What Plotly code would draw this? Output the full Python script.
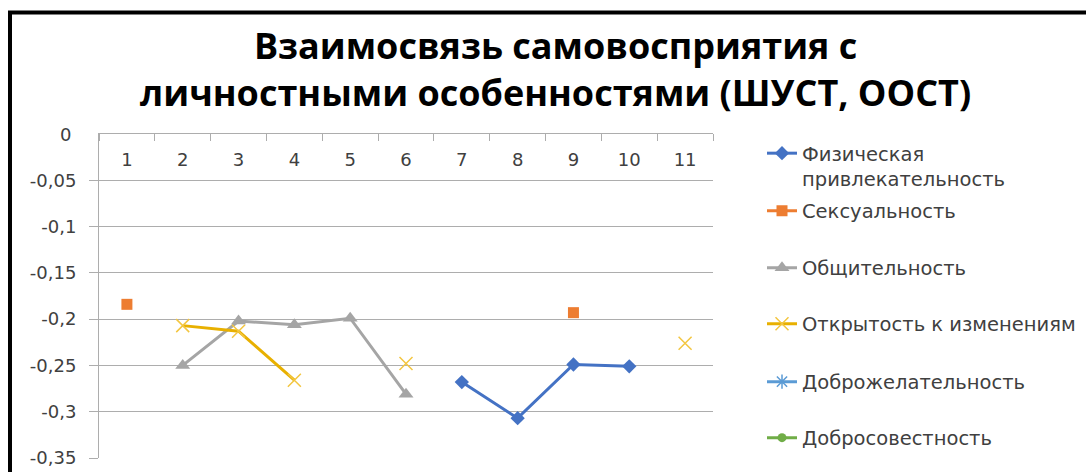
import plotly.graph_objects as go

categories = [1, 2, 3, 4, 5, 6, 7, 8, 9, 10, 11]
tick_labels = ["1", "2", "3", "4", "5", "6", "7", "8", "9", "10", "11"]

phys_attr = [None, None, None, None, None, None, -0.268, -0.307, -0.249, -0.251, None]
sexuality = [-0.184, None, None, None, None, None, None, None, -0.193, None, None]
sociability = [None, -0.250, -0.202, -0.206, -0.199, -0.281, None, None, None, None, None]
openness = [None, -0.207, -0.213, -0.266, None, -0.248, None, None, None, None, -0.226]
benevolence = [None] * 11
conscientiousness = [None] * 11

series_names = [
    "Физическая<br>привлекательность",
    "Сексуальность",
    "Общительность",
    "Открытость к изменениям",
    "Доброжелательность",
    "Добросовестность",
]

y_tickvals = [0, -0.05, -0.1, -0.15, -0.2, -0.25, -0.3, -0.35]
y_ticktext = ["0", "-0,05", "-0,1", "-0,15", "-0,2", "-0,25", "-0,3", "-0,35"]

title_text = "Взаимосвязь самовосприятия с<br>личностными особенностями (ШУСТ, ООСТ)"

# figure geometry (pixels)
W, H = 1086, 472
PL, PR, PT, PB = 99, 713, 134, 458
pw, ph = PR - PL, PB - PT


def px_x(x):
    return (x - PL) / pw


def px_y(y):
    return (PB - y) / ph


styles = [
    dict(line=dict(color="#4472C4", width=3), marker=dict(symbol="diamond", size=11, color="#4472C4")),
    dict(line=dict(color="#ED7D31", width=3), marker=dict(symbol="square", size=11, color="#ED7D31")),
    dict(line=dict(color="#A5A5A5", width=3), marker=dict(symbol="triangle-up", size=13, color="#A5A5A5")),
    dict(line=dict(color="#E8B000", width=3),
         marker=dict(symbol="x-thin-open", size=13, color="#F3C640", line=dict(color="#F3C640", width=1.5))),
    dict(line=dict(color="#5B9BD5", width=3),
         marker=dict(symbol="asterisk-open", size=12, color="#5B9BD5", line=dict(color="#5B9BD5", width=1.5))),
    dict(line=dict(color="#70AD47", width=3), marker=dict(symbol="circle", size=9, color="#70AD47")),
]

data = [phys_attr, sexuality, sociability, openness, benevolence, conscientiousness]
legend_ids = ["legend", "legend2", "legend3", "legend4", "legend5", "legend6"]
legend_y_px = [134, 211, 268, 324, 382, 438]

fig = go.Figure()
for name, ys, st, lid in zip(series_names, data, styles, legend_ids):
    fig.add_trace(go.Scatter(
        x=categories, y=ys, name=name, mode="lines+markers",
        connectgaps=False, legend=lid, **st
    ))

legend_font = dict(family="DejaVu Sans", size=19.5, color="#404040")
legend_layout = {}
for i, (lid, ypx) in enumerate(zip(legend_ids, legend_y_px)):
    cfg = dict(
        x=px_x(762), xanchor="left",
        y=px_y(ypx), yanchor="top" if i == 0 else "middle",
        font=legend_font, bgcolor="rgba(0,0,0,0)",
        valign="top", itemclick=False, itemdoubleclick=False,
    )
    legend_layout[lid] = cfg

fig.update_layout(
    width=W, height=H,
    margin=dict(l=PL, r=W - PR, t=PT, b=H - PB, autoexpand=False),
    paper_bgcolor="white", plot_bgcolor="white",
    showlegend=True,
    **legend_layout,
)

fig.add_annotation(
    text=title_text, xref="paper", yref="paper",
    x=px_x(555), y=px_y(69), xanchor="center", yanchor="middle",
    showarrow=False, align="center",
    font=dict(family="Open Sans", size=36, color="#000000", weight="bold"),
)

tick_font = dict(family="DejaVu Sans", size=18, color="#404040")

fig.update_xaxes(
    range=[0.5, 11.5], side="top",
    tickvals=categories, ticktext=tick_labels,
    ticks="", ticklabelposition="inside", ticklabelstandoff=20,
    showgrid=False, zeroline=False,
    showline=True, linecolor="#ADADAD", linewidth=1,
    minor=dict(tickvals=[c + 0.5 for c in [0] + categories], ticks="inside",
               ticklen=7, tickcolor="#ADADAD", showgrid=False),
    tickfont=tick_font,
    fixedrange=True,
)
fig.update_yaxes(
    range=[-0.35, 0], tickvals=y_tickvals, ticktext=y_ticktext,
    showgrid=True, gridcolor="#ADADAD", gridwidth=1, zeroline=False,
    showline=True, linecolor="#ADADAD", linewidth=1,
    ticks="outside", ticklen=9, tickcolor="#ADADAD",
    ticklabelstandoff=9,
    tickfont=tick_font,
    fixedrange=True,
)

# the top y tick label ("0") is suppressed by plotly where the top x axis sits; draw it explicitly
fig.add_annotation(
    text=y_ticktext[0], xref="paper", yref="y",
    x=px_x(73), y=y_tickvals[0], xanchor="right", yanchor="middle",
    showarrow=False, font=tick_font,
)

# outer chart border (black frame, partly cropped)
fig.add_shape(type="rect", xref="paper", yref="paper",
              x0=px_x(10), x1=px_x(W + 20), y0=px_y(H + 20), y1=px_y(12.5),
              line=dict(color="black", width=4), layer="below")

fig.write_html("out.html")
